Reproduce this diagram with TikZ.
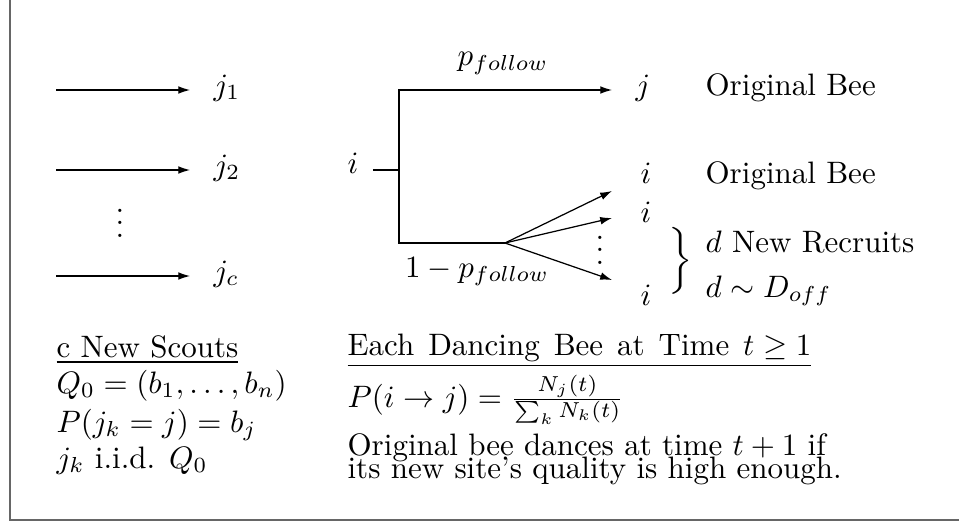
\documentclass[tikz,border=0pt]{standalone}
\usepackage{amsmath}
\usepackage{graphicx}
\usepackage{tikz}
\usetikzlibrary{arrows.meta,positioning}

\begin{document}
\begin{tikzpicture}[x=0.3226pt, y=-0.3226pt,
        txt/.style={anchor=base west, inner sep=0pt},
        tip/.style={-{Latex[length=3.8pt,width=2.5pt]}}]
        \useasboundingbox (0,0) rectangle (959,523);

        % Frame (left and bottom only)
        \draw[black!60, line width=0.6pt] (10,0) -- (10,520) -- (959,520);

        % New scouts
        \foreach \y/\k in {90/1, 170/2, 276/c} {
            \coordinate (s\k) at (56,\y);
            \node[txt] (j\k) at (213,\y+5) {$j_\k$};
            \draw[tip, shorten >=7.4pt] (s\k) -- (s\k -| j\k.west);
        }
        \node[anchor=base, inner sep=0pt] (sdots) at (120,237) {$\vdots$};

        % Dancing bee tree
        \node[txt] (i) at (347,173) {$i$};
        \coordinate (br) at (399,170);
        \coordinate (top) at (399,90);
        \coordinate (bot) at (399,243);
        \coordinate (fan) at (505,243);
        \node[txt] (j) at (635,95) {$j$};
        \draw[tip, shorten <=4.5pt, shorten >=7.4pt] (br -| i.east) -- (br) -- (top) -- (top -| j.west);
        \draw (br) -- (bot) -- (fan);
        \node[anchor=base, inner sep=0pt] (pf) at (503,66) {$p_{follow}$};
        \node[anchor=base, inner sep=0pt] (qf) at (477,277) {$1 - p_{follow}$};

        % Recruits
        \coordinate (f1) at (612,191);
        \coordinate (f2) at (612,218);
        \coordinate (f3) at (612,280);
        \foreach \f in {f1,f2,f3}
            \draw[tip] (fan) -- (\f);
        \node[anchor=base, inner sep=0pt] (fdots) at (600,264) {$\vdots$};
        \node[txt] (i1) at (640,183) {$i$};
        \node[txt] (i2) at (640,222) {$i$};
        \node[txt] (i3) at (640,305) {$i$};
        \node[txt] (ob1) at (705,95) {Original Bee};
        \node[txt] (ob2) at (705,183) {Original Bee};
        \node[inner sep=0pt] (brace) at (681,261) {\scalebox{1.05}[0.9]{$\bigg\}$}};
        \node[txt] (nr) at (705,252) {$d$ New Recruits};
        \node[txt] (dd) at (705,297) {$d \sim D_{off}$};

        % Scout rules
        \node[txt] (sc0) at (56,357) {\underline{c New Scouts}};
        \node[txt] (sc1) at (56,393) {$Q_0 = (b_1, \ldots, b_n)$};
        \node[txt] (sc2) at (56,432) {$P(j_k = j) = b_j$};
        \node[txt] (sc3) at (56,468) {$j_k$ i.i.d. $Q_0$};

        % Dancing bee rules
        \node[txt] (db0) at (347,355) {\spaceskip=4.5pt\underline{Each Dancing Bee at Time $t \geq 1$}};
        \node[txt] (db1) at (347,407) {$P(i \to j) = \frac{N_j(t)}{\sum_k N_k(t)}$};
        \node[txt] (db2) at (347,455) {Original bee dances at time $t + 1$ if};
        \node[txt] (db3) at (347,478) {its new site's quality is high enough.};
\end{tikzpicture}
\end{document}
